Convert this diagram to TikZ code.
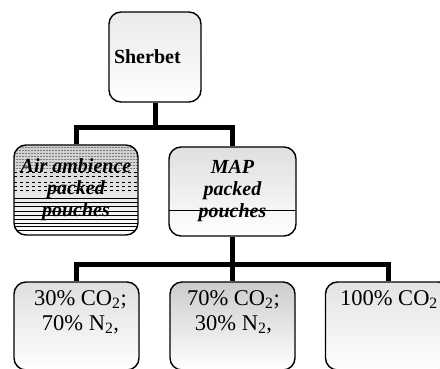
\documentclass[tikz,border=0pt]{standalone}
\usepackage{fontspec}
\setmainfont{Liberation Serif}
\usetikzlibrary{positioning,calc}

\newcommand{\boxfont}{\fontsize{20}{22}\selectfont}
\newcommand{\gasfont}{\fontsize{22.5}{25}\selectfont}

\begin{document}
\begin{tikzpicture}[x=1pt, y=-1pt]
	\useasboundingbox (0,0) rectangle (440,369);
	\clip (0,0) rectangle (440,369);
	\begin{scope}
		\tikzstyle{box}=[draw, line width=1.4pt, rounded corners=12pt, align=center, inner sep=1pt, bottom color=white, font=\boxfont]
		\tikzstyle{gasbox}=[box, minimum width=125pt, minimum height=88pt]
		\tikzstyle{gaslabel}=[align=center, inner sep=0pt, anchor=north, font=\gasfont]
		\tikzstyle{conn}=[line width=5pt]

		\node[box, top color=gray!17, minimum width=92pt, minimum height=90pt, text width=82pt, align=left, inner sep=5pt, text depth=0pt] (sherbet) at (155, 57) {\textbf{Sherbet}};

		\node[box, top color=gray!40, minimum width=124pt, minimum height=90pt,
			path picture={
				\foreach \yy in {2,5,8,11,14,17,20,23}
					\draw[gray, densely dotted, line width=0.5pt] ($(path picture bounding box.north west)+(0,\yy)$) -- ($(path picture bounding box.north east)+(0,\yy)$);
				\foreach \yy in {27,31,37,41,45}
					\draw[black, dashed, line width=0.5pt] ($(path picture bounding box.north west)+(0,\yy)$) -- ($(path picture bounding box.north east)+(0,\yy)$);
				\foreach \yy in {53,57,61,66,70,74,78,81,85}
					\draw[black, line width=0.6pt] ($(path picture bounding box.north west)+(0,\yy)$) -- ($(path picture bounding box.north east)+(0,\yy)$);
			}] (air) at (76, 190) {\textbf{\textit{Air ambience}}\\\textbf{\textit{packed}}\\\textbf{\textit{pouches}}};

		\node[box, top color=gray!25, minimum width=127pt, minimum height=89pt,
			path picture={
				\draw[black, line width=0.8pt] ($(path picture bounding box.north west)+(0,63)$) -- ($(path picture bounding box.north east)+(0,63)$);
			}] (map) at (232.5, 191.5) {\fontsize{20}{23}\selectfont\textbf{\textit{MAP}}\\\textbf{\textit{packed}}\\\textbf{\textit{pouches}}};

		\node[gasbox, top color=gray!25] (g30)  at (76.5, 326)  {};
		\node[gasbox, top color=gray!40] (g70)  at (232.5, 326) {};
		\node[gasbox, top color=gray!22] (g100) at (388, 326)   {};

		\node[gaslabel] (t30)  at ($(g30.north)+(4,9)$)  {30\% CO\textsubscript{2};\\70\% N\textsubscript{2},};
		\node[gaslabel] (t70)  at ($(g70.north)+(1,9)$)  {70\% CO\textsubscript{2};\\30\% N\textsubscript{2},};
		\node[gaslabel] (t100) at ($(g100.north)+(1,9)$) {100\% CO\textsubscript{2}};

		\coordinate (j1) at (155, 128);
		\coordinate (j2) at (232.5, 264);

		\draw [conn] (sherbet) -- (j1);
		\draw [conn] (j1) -| (air);
		\draw [conn] (j1) -| (map);

		\draw [conn] (map) -- (j2);
		\draw [conn] (j2) -| (g30);
		\draw [conn] (j2) -- (g70);
		\draw [conn] (j2) -| (g100);
	\end{scope}
\end{tikzpicture}
\end{document}
